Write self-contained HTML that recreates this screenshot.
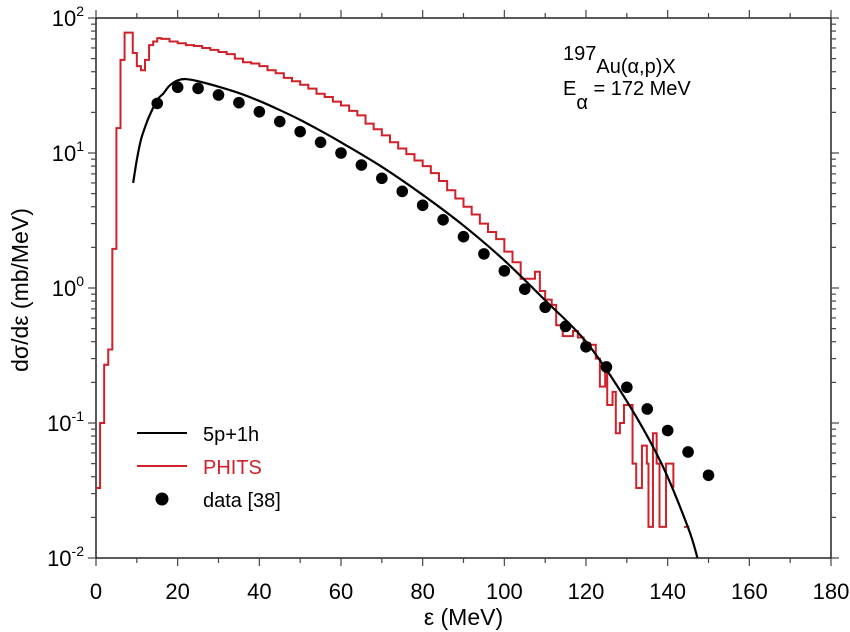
<!DOCTYPE html>
<html><head><meta charset="utf-8"><style>
body{margin:0;background:#fff;}
svg{display:block;font-family:"Liberation Sans",Arial,sans-serif;}
</style></head><body>
<svg id="chart" width="850" height="632" viewBox="0 0 850 632"></svg>
<script>
const dataX=[15,20,25,30,35,40,45,50,55,60,65,70,75,80,85,90,95,100,105,110,115,120,125,130,135,140,145,150];
const dataY=[23.3,30.7,30.1,26.9,23.6,20.2,17.1,14.4,12.0,10.0,8.15,6.5,5.2,4.1,3.2,2.4,1.79,1.34,0.98,0.72,0.52,0.367,0.26,0.184,0.127,0.088,0.061,0.041];
const theoryX=[9.1,10,11,12,13,15,16.5,18,20,22,25,30,35,40,45,50,55,60,70,80,90,100,110,120,130,138.5,145,147.3];
const theoryY=[6.0,8.9,12.5,15.5,18.6,24.7,27.6,31.5,34.5,35.3,34,31,27.8,24.3,20.8,17.6,14.6,12.0,7.9,4.9,2.9,1.6,0.81,0.4,0.145,0.05,0.0168,0.01];
const phitsEdges=[0,1,2,3,4,5,6,7,9,10,11,12,13,14,15,16,18,20,22,24,26,28,30,32,34,36,38,40,42,44,46,48,50,52,54,56,58,60,62,64,66,68,70,72,74,76,78,80,82,84,86,88,90,92,94,96,98,100,102,104,107.5,108.7,110,111.6,112.7,114.3,116.8,118,119.4,121,122.4,123.4,124.7,125.2,126.5,127.3,128.3,129.3,131.4,132.3,133.7,134.9,135.3,136.4,137.3,138,139.6,141.4];
const phitsVals=[0.033,0.1,0.27,0.35,1.95,15.3,49,78,55,44,41,49,63,67,71,70,67,65,63,62,60,58,56,54,50,47,46,44,41,39,36,34,32,30,27.5,26,24,22.5,20.5,19,16.5,15,13.5,12,10.8,9.8,8.8,8,7.1,6.2,5.3,4.6,4.0,3.5,3.0,2.6,2.3,1.86,1.55,1.17,1.32,0.95,0.82,0.75,0.53,0.44,0.48,0.43,0.39,0.38,0.3,0.186,0.25,0.136,0.17,0.084,0.1,0.136,0.05,0.033,0.068,0.05,0.017,0.084,0.05,0.017,0.05];
const phitsIsoEdges=[144,145.3];
const phitsIsoVals=[0.017];
const xTicks=[0,20,40,60,80,100,120,140,160,180];
const yExps=[-2,-1,0,1,2];

const NS="http://www.w3.org/2000/svg";
const svg=document.getElementById('chart');
const L=96,R=831,T=18,B=558;
const sx=v=>L+(v/180)*(R-L);
const sy=v=>T+(2-Math.log10(v))/4*(B-T);
function mk(tag,attrs,parent){const e=document.createElementNS(NS,tag);for(const k in attrs)e.setAttribute(k,attrs[k]);(parent||svg).appendChild(e);return e;}

const clip=mk('clipPath',{id:'pc'});mk('rect',{x:L,y:T,width:R-L,height:B-T},clip);

const frame=mk('rect',{x:L,y:T,width:R-L,height:B-T,fill:'none',stroke:'#000','stroke-width':1.3});



for(let v=0;v<=180;v+=10){
  const maj=v%20===0, len=maj?8:5;
  const t1=mk('line',{x1:sx(v),x2:sx(v),y1:B,y2:B+len,stroke:'#444','stroke-width':1.2});
  
  
  const t2=mk('line',{x1:sx(v),x2:sx(v),y1:T,y2:T-len,stroke:'#444','stroke-width':1.2});
  
  
}
xTicks.forEach(v=>{
  const t=mk('text',{x:sx(v),y:599,'text-anchor':'middle','font-size':22});
  t.textContent=v;
  
  
});
for(let e=-2;e<2;e++){
  for(let m=1;m<10;m++){
    const v=m*Math.pow(10,e), len=m===1?8:5;
    const a=mk('line',{x1:L-len,x2:L,y1:sy(v),y2:sy(v),stroke:'#444','stroke-width':1.2});
    
    
    const b=mk('line',{x1:R,x2:R+len,y1:sy(v),y2:sy(v),stroke:'#444','stroke-width':1.2});
    
    
  }
}
{const a=mk('line',{x1:L-8,x2:L,y1:sy(100),y2:sy(100),stroke:'#444','stroke-width':1.2});
 const b=mk('line',{x1:R,x2:R+8,y1:sy(100),y2:sy(100),stroke:'#444','stroke-width':1.2});}
yExps.forEach(e=>{
  const t=mk('text',{x:84,y:sy(Math.pow(10,e))+8,'text-anchor':'end','font-size':22});
  t.textContent='10';
  const s=mk('tspan',{dy:-10,'font-size':14},t);s.textContent=String(e);
  
  
});

const xt=mk('text',{x:(L+R)/2,y:625,'text-anchor':'middle','font-size':23});
xt.textContent='ε (MeV)';


const yt=mk('text',{x:0,y:0,'text-anchor':'middle','font-size':23,transform:'translate(28,290) rotate(-90)'});
yt.textContent='dσ/dε (mb/MeV)';



let d='';
for(let i=0;i<phitsVals.length;i++){
  const y=sy(phitsVals[i]);
  d+=(i===0?'M':'L')+sx(phitsEdges[i])+','+y+' L'+sx(phitsEdges[i+1])+','+y+' ';
}
d+='L'+sx(phitsEdges[phitsEdges.length-1])+','+sy(0.033);
const ph=mk('path',{d:d,fill:'none',stroke:'#d0202a','stroke-width':2,'clip-path':'url(#pc)'});


const iso=mk('path',{d:'M'+sx(phitsIsoEdges[0])+','+sy(phitsIsoVals[0])+' L'+sx(phitsIsoEdges[1])+','+sy(phitsIsoVals[0]),fill:'none',stroke:'#d0202a','stroke-width':2});



const pts=theoryX.map((x,i)=>[sx(x),sy(theoryY[i])]);
let c='M'+pts[0][0]+','+pts[0][1];
for(let i=0;i<pts.length-1;i++){
  const p0=pts[Math.max(0,i-1)],p1=pts[i],p2=pts[i+1],p3=pts[Math.min(pts.length-1,i+2)];
  const c1=[p1[0]+(p2[0]-p0[0])/6,p1[1]+(p2[1]-p0[1])/6];
  const c2=[p2[0]-(p3[0]-p1[0])/6,p2[1]-(p3[1]-p1[1])/6];
  c+=' C'+c1[0]+','+c1[1]+' '+c2[0]+','+c2[1]+' '+p2[0]+','+p2[1];
}
const th=mk('path',{d:c,fill:'none',stroke:'#000','stroke-width':2.2,'clip-path':'url(#pc)'});



dataX.forEach((x,i)=>{
  const p=mk('circle',{cx:sx(x),cy:sy(dataY[i]),r:5.8,fill:'#000'});
  
  
});

const lg=mk('g',{});


const l1=mk('line',{x1:137,x2:187,y1:433,y2:433,stroke:'#000','stroke-width':2},lg);


const t1=mk('text',{x:203,y:441,'font-size':20},lg);t1.textContent='5p+1h';


const l2=mk('line',{x1:137,x2:187,y1:466,y2:466,stroke:'#d0202a','stroke-width':2},lg);


const t2=mk('text',{x:203,y:474,'font-size':20,fill:'#d0202a'},lg);t2.textContent='PHITS';


const dm=mk('circle',{cx:162,cy:499,r:6.5,fill:'#000'},lg);


const t3=mk('text',{x:203,y:507,'font-size':20},lg);t3.textContent='data [38]';



const a1=mk('text',{x:563,y:60,'font-size':20});
a1.textContent='197';
const a1b=mk('tspan',{dy:13},a1);a1b.textContent='Au(α,p)X';


const a2=mk('text',{x:563,y:95,'font-size':20});
a2.textContent='E';
const a2s=mk('tspan',{dy:14},a2);a2s.textContent='α';
const a2b=mk('tspan',{dy:-14},a2);a2b.textContent=' = 172 MeV';


</script>
</body></html>
